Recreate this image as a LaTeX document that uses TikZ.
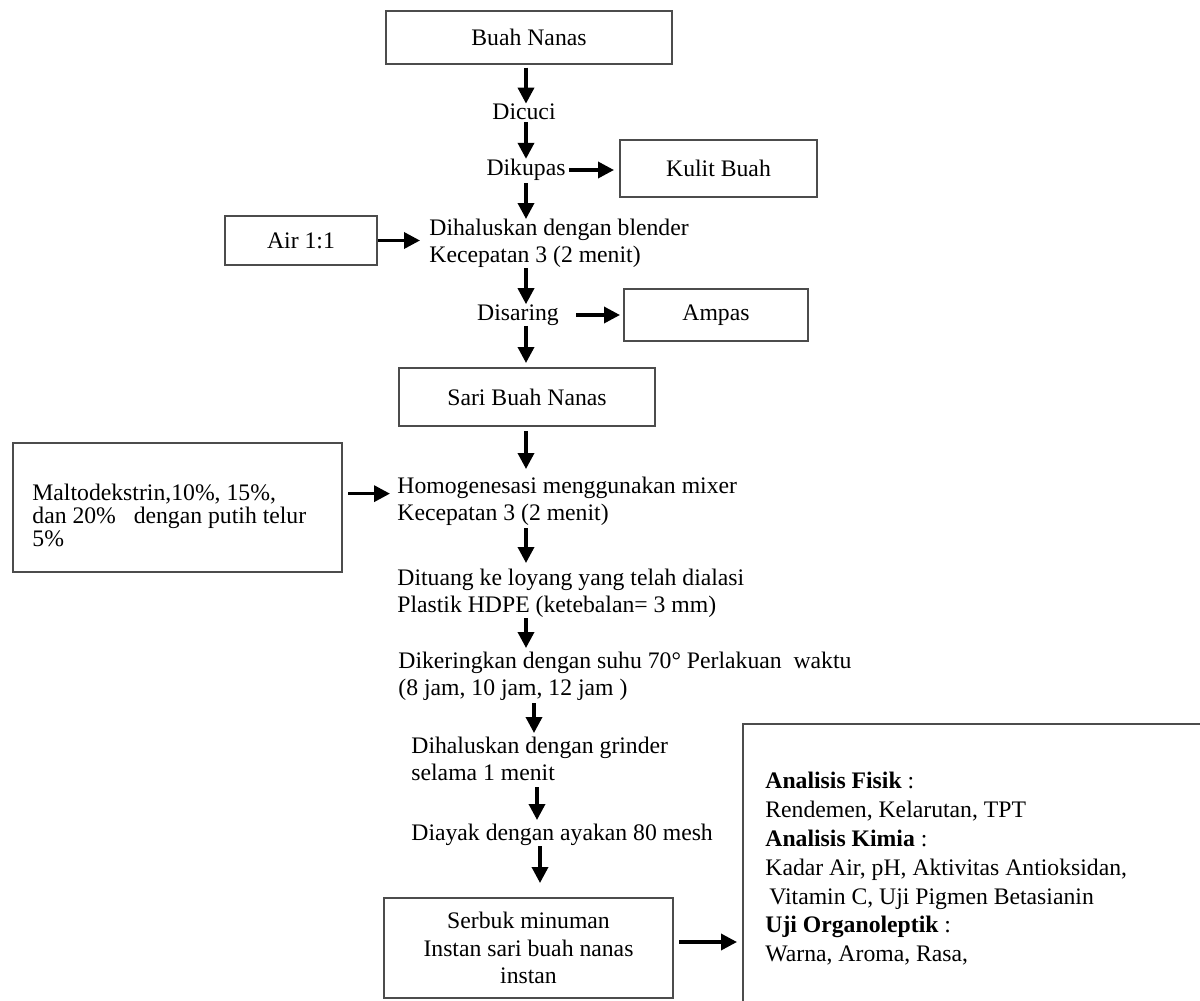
\documentclass[tikz,border=0pt]{standalone}
\usepackage{fontspec}
\setmainfont{Liberation Serif}
\usetikzlibrary{arrows.meta}
\newcommand\fz{\fontsize{11.85pt}{13.5pt}\selectfont}
\newcommand\fzm{\fontsize{11.85pt}{11.5pt}\selectfont}
\newcommand\fzs{\fontsize{11.85pt}{13.75pt}\selectfont}
\newcommand\fzr{\fontsize{11.85pt}{14.4pt}\selectfont}
\begin{document}
\begin{tikzpicture}[x=0.5pt,y=-0.5pt,
  box/.style={draw=black!70, line width=1pt, inner sep=0pt, align=center, font=\fz},
  txt/.style={inner sep=0pt, align=left, font=\fz},
  arr/.style={-{Triangle[length=8pt,width=8pt]}, line width=1.75pt, black}]
\useasboundingbox (0,0) rectangle (1200,1001);
\fill[white] (0,0) rectangle (1200,1001);
\clip (0,0) rectangle (1200,1001);
% column coordinates
\coordinate (c1) at (526,0);
\coordinate (c2) at (534,0);
\coordinate (c3) at (537,0);
\coordinate (c4) at (540,0);
% nodes
\node[box, minimum width=143pt, minimum height=26.5pt] (buah) at (529,37) {Buah Nanas};
\node[txt] (dicuci) at (524,112) {Dicuci};
\node[txt] (dikupas) at (526,170) {Dikupas};
\node[box, minimum width=98.5pt, minimum height=28.5pt] (kulit) at (718.5,168.5) {Kulit Buah};
\node[txt, anchor=north west] (dihalus) at (429,219) {Dihaluskan dengan blender\\Kecepatan 3 (2 menit)};
\node[box, minimum width=76pt, minimum height=24.5pt] (air) at (301,240.5) {Air 1:1};
\node[txt] (disaring) at (518,315) {Disaring};
\node[box, minimum width=92pt, minimum height=26pt] (ampas) at (716,315) {Ampas};
\node[box, minimum width=128pt, minimum height=29pt] (sari) at (527,397) {Sari Buah Nanas};
\node[box, minimum width=164.5pt, minimum height=64.5pt] (maltobox) at (177.5,507.5) {};
\node[txt, anchor=north west, font=\fzm] (malto) at (32,484) {Maltodekstrin,10\%, 15\%,\\dan 20\%\ \ \ dengan putih telur\\5\%};
\node[txt, anchor=north west] (homog) at (397,477) {Homogenesasi menggunakan mixer\\Kecepatan 3 (2 menit)};
\node[txt, anchor=north west] (dituang) at (397,569) {Dituang ke loyang yang telah dialasi\\Plastik HDPE (ketebalan= 3 mm)};
\node[txt, anchor=north west] (dikering) at (398,652) {Dikeringkan dengan suhu 70° Perlakuan\ \ waktu\\(8 jam, 10 jam, 12 jam\ )};
\node[txt, anchor=north west] (grinder) at (411,737) {Dihaluskan dengan grinder\\selama 1 menit};
\node[txt, anchor=north west] (diayak) at (411,824) {Diayak dengan ayakan 80 mesh};
\node[box, minimum width=144.5pt, minimum height=50pt, font=\fzs] (serbuk) at (528.5,948) {Serbuk minuman\\Instan sari buah nanas\\instan};
\node[box, anchor=north west, minimum width=250pt, minimum height=150pt] (hasil) at (742,723) {};
\node[txt, anchor=north west, font=\fzr] (hasiltxt) at (765,772) {\textbf{Analisis Fisik} :\\Rendemen, Kelarutan, TPT\\\textbf{Analisis Kimia} :\\Kadar Air, pH, Aktivitas Antioksidan,\\\hspace{2pt}Vitamin C, Uji Pigmen Betasianin\\\textbf{Uji Organoleptik} :\\Warna, Aroma, Rasa,};
% vertical arrows
\draw[arr, shorten <=1.5pt] (buah.south -| c1) -- (dicuci.north -| c1);
\draw[arr, shorten <=1pt] (dicuci.south -| c1) -- (dikupas.north -| c1);
\draw[arr, shorten <=1pt] (dikupas.south -| c1) -- (dihalus.north -| c1);
\draw[arr] (dihalus.south -| c1) -- (disaring.north -| c1);
\draw[arr, shorten >=2pt] (disaring.south -| c1) -- (sari.north -| c1);
\draw[arr, shorten <=2pt, shorten >=4pt] (sari.south -| c1) -- (homog.north -| c1);
\draw[arr, shorten <=1pt, shorten >=3pt] (homog.south -| c1) -- (dituang.north -| c1);
\draw[arr, shorten >=2pt] (dituang.south -| c1) -- (dikering.north -| c1);
\draw[arr, shorten <=1pt, shorten >=2pt] (dikering.south -| c2) -- (grinder.north -| c2);
\draw[arr, shorten <=3pt, shorten >=2pt] (grinder.south -| c3) -- (diayak.north -| c3);
\draw[arr, shorten >=7pt] (diayak.south -| c4) -- (serbuk.north -| c4);
% horizontal arrows
\draw[arr, shorten <=1.5pt, shorten >=2.5pt] (dikupas.east) -- (dikupas.east -| kulit.west);
\draw[arr, shorten >=4.5pt] (air.east) -- (air.east -| dihalus.west);
\draw[arr, shorten <=8.5pt, shorten >=1.5pt] (disaring.east) -- (disaring.east -| ampas.west);
\draw[arr, shorten <=2.5pt, shorten >=3.5pt] ([yshift=4pt]homog.west -| maltobox.east) -- ([yshift=4pt]homog.west);
\draw[arr, shorten <=2.5pt, shorten >=2.5pt] ([yshift=3pt]serbuk.east) -- ([yshift=3pt]serbuk.east -| hasil.west);
\end{tikzpicture}
\end{document}
